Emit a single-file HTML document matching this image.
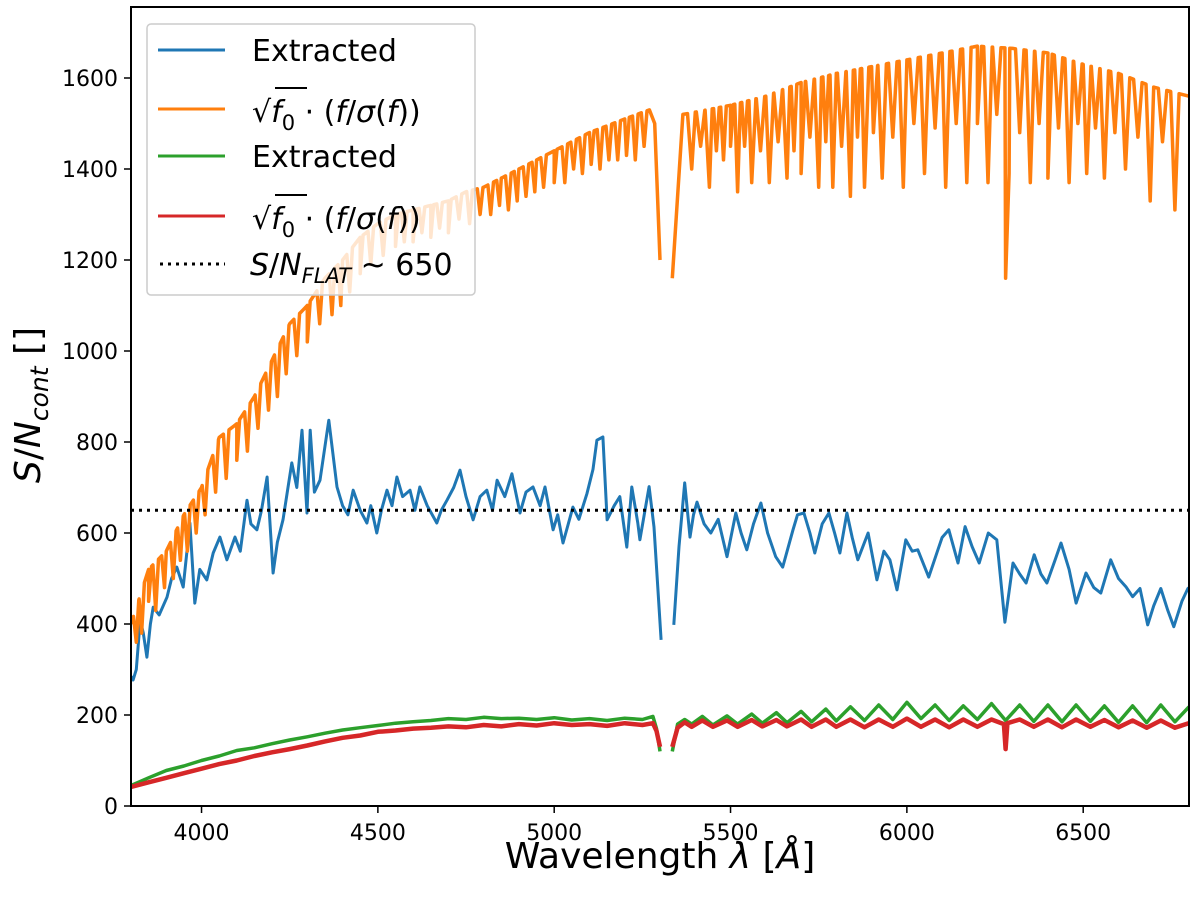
<!DOCTYPE html>
<html><head><meta charset="utf-8"><style>
html,body{margin:0;padding:0;background:#fff;}
svg{display:block;font-family:"DejaVu Sans","Liberation Sans",sans-serif;}
</style></head><body>
<svg id="chart" width="1200" height="907" viewBox="0 0 1200 907">
<g id="plot"></g>
</svg>
<script>
const blueW=[3800,3806,3815,3826,3835,3845,3855,3863,3880,3902,3915,3930,3948,3967,3981,3995,4015,4033,4052,4072,4095,4110,4129,4140,4157,4170,4186,4203,4215,4231,4256,4270,4285,4299,4308,4320,4336,4361,4384,4400,4415,4430,4450,4469,4480,4497,4510,4526,4540,4554,4570,4591,4605,4619,4640,4667,4680,4696,4715,4733,4750,4770,4790,4809,4825,4838,4860,4880,4903,4920,4940,4960,4974,4997,5010,5025,5040,5053,5070,5093,5110,5121,5138,5150,5170,5186,5206,5220,5237,5243,5269,5283,5303,null,5339,5354,5370,5385,5395,5405,5425,5444,5465,5490,5515,5530,5546,5565,5586,5605,5628,5648,5677,5690,5708,5725,5739,5760,5779,5795,5810,5830,5845,5861,5890,5915,5935,5952,5972,5997,6015,6031,6062,6088,6100,6119,6145,6165,6185,6205,6231,6255,6278,6301,6320,6338,6361,6380,6397,6420,6437,6460,6480,6508,6530,6550,6578,6600,6621,6640,6661,6683,6700,6720,6740,6757,6780,6797,6800];
const blueV=[285,277,300,409,380,327,400,437,420,459,500,525,481,622,446,520,497,556,591,541,591,560,672,620,607,650,723,512,580,629,754,700,826,644,826,690,716,848,701,660,640,694,650,622,660,600,650,694,660,723,680,694,650,701,660,622,650,672,700,738,680,629,680,694,650,716,680,730,644,690,701,660,701,607,640,578,620,657,630,687,740,804,811,629,660,680,569,701,622,585,702,613,365,null,398,570,710,591,640,668,620,600,630,548,644,600,563,620,666,600,548,525,607,640,644,600,556,620,644,600,556,644,590,541,600,497,560,541,475,585,560,563,503,563,590,607,534,614,570,534,600,585,404,534,510,490,552,510,490,540,578,520,446,512,480,468,541,500,482,460,478,398,440,478,430,394,450,478,480];
const orangeEnvW=[3800,3850,3900,3950,4000,4050,4100,4150,4200,4250,4300,4350,4400,4450,4500,4550,4600,4650,4700,4750,4800,4850,4900,4950,5000,5100,5200,5270,5285,5300,null,5335,5365,5400,5500,5600,5700,5800,5900,6000,6100,6200,6300,6400,6500,6600,6700,6800];
const orangeEnvV=[400,520,560,640,700,810,840,900,980,1060,1100,1160,1200,1250,1280,1300,1310,1320,1330,1350,1360,1380,1400,1420,1440,1480,1510,1530,1500,1200,null,1160,1520,1525,1540,1560,1590,1610,1625,1640,1655,1670,1665,1655,1630,1610,1580,1560];
const orangeDipW=[3815,3830,3850,3870,3895,3920,3940,3960,3985,4010,4040,4070,4100,4130,4160,4190,4215,4240,4270,4300,4335,4370,4395,4420,4450,4480,4515,4550,4575,4600,4625,4650,4675,4700,4730,4760,4790,4820,4845,4870,4895,4920,4945,4970,5000,5030,5055,5080,5105,5130,5155,5180,5205,5230,5255,5390,5415,5440,5460,5480,5500,5520,5540,5560,5585,5610,5635,5660,5680,5700,5725,5750,5770,5790,5815,5840,5860,5880,5905,5930,5960,5990,6020,6050,6080,6110,6140,6170,6200,6230,6255,6280,6290,6320,6350,6375,6400,6430,6460,6485,6510,6535,6560,6590,6620,6655,6690,6725,6760];
const orangeDipV=[360,380,450,430,480,500,540,560,600,640,690,720,760,780,830,870,900,950,990,1020,1060,1080,1100,1130,1170,1190,1210,1230,1240,1240,1260,1250,1270,1260,1290,1280,1300,1300,1320,1310,1330,1340,1350,1360,1370,1370,1400,1390,1410,1400,1420,1420,1430,1420,1450,1400,1450,1360,1440,1420,1450,1350,1450,1370,1440,1370,1460,1380,1440,1390,1470,1360,1460,1360,1450,1340,1470,1360,1480,1380,1470,1360,1500,1390,1490,1360,1500,1370,1500,1370,1520,1160,1390,1480,1370,1500,1380,1490,1370,1500,1390,1490,1380,1480,1400,1470,1330,1460,1310];
const greenW=[3800,3850,3900,3950,4000,4050,4100,4150,4200,4250,4300,4350,4400,4450,4500,4550,4600,4650,4700,4750,4800,4850,4900,4950,5000,5050,5100,5150,5200,5250,5280,5290,5300,null,5335,5350,5370,5390,5420,5450,5490,5520,5560,5590,5630,5660,5700,5730,5770,5800,5840,5880,5920,5960,6000,6040,6080,6120,6160,6200,6240,6280,6320,6360,6400,6440,6480,6520,6560,6600,6640,6680,6720,6760,6800];
const greenV=[45,62,78,88,100,110,122,128,137,145,152,160,167,172,177,182,185,188,192,190,195,192,193,190,194,189,192,188,193,190,197,170,120,null,120,180,190,180,197,178,198,180,202,182,205,183,208,185,213,187,218,188,222,190,228,192,222,188,220,190,225,188,222,186,222,185,222,186,220,184,220,183,222,185,218];
const redW=[3800,3850,3900,3950,4000,4050,4100,4150,4200,4250,4300,4350,4400,4450,4500,4550,4600,4650,4700,4750,4800,4850,4900,4950,5000,5050,5100,5150,5200,5250,5280,5290,5300,null,5335,5350,5370,5390,5420,5450,5490,5520,5560,5590,5630,5660,5700,5730,5770,5800,5840,5880,5920,5960,6000,6040,6080,6120,6160,6200,6240,6275,6280,6285,6320,6360,6400,6440,6480,6520,6560,6600,6640,6680,6720,6760,6800];
const redV=[42,52,62,72,82,92,100,110,118,125,133,142,150,155,163,166,170,172,175,173,178,175,180,177,182,178,180,176,182,178,182,165,130,null,130,172,184,174,188,174,188,174,189,175,189,175,190,174,190,174,190,173,190,174,192,174,190,173,190,174,190,180,125,182,190,174,190,173,190,174,189,173,188,172,188,172,182];
const xTicks=[4000,4500,5000,5500,6000,6500];
const yTicks=[0,200,400,600,800,1000,1200,1400,1600];
const flatLevel=650;

const L=131,R=1189,T=7,B=806;
const X=w=>L+(w-3800)*(R-L)/3000;
const Y=v=>B-v*0.455;
const NS='http://www.w3.org/2000/svg';
const svg=document.getElementById('chart');
function mk(tag,attrs,parent){const e=document.createElementNS(NS,tag);for(const k in attrs)e.setAttribute(k,attrs[k]);(parent||svg).appendChild(e);return e;}
const clip=mk('clipPath',{id:'cp'});mk('rect',{x:L,y:T,width:R-L,height:B-T},clip);
function pathFrom(ws,vs){let d='',pen=false;for(let i=0;i<ws.length;i++){if(ws[i]===null||vs[i]===null){pen=false;continue;}d+=(pen?'L':'M')+X(ws[i]).toFixed(1)+','+Y(vs[i]).toFixed(1);pen=true;}return d;}
function envAt(w){for(let i=0;i<orangeEnvW.length-1;i++){const a=orangeEnvW[i],b=orangeEnvW[i+1];if(a!==null&&b!==null&&w>=a&&w<=b){return orangeEnvV[i]+(orangeEnvV[i+1]-orangeEnvV[i])*(w-a)/(b-a);}}return null;}
let pts=[];
for(let i=0;i<orangeEnvW.length;i++){if(orangeEnvW[i]!==null)pts.push([orangeEnvW[i],orangeEnvV[i]]);else pts.push([orangeEnvW[i-1]+1,null]);}
for(let i=0;i<orangeDipW.length;i++){const w=orangeDipW[i];const h=w<5300?8:12;const a=envAt(w-h),b=envAt(w+h);if(a!==null)pts.push([w-h,a]);pts.push([w,orangeDipV[i]]);if(b!==null)pts.push([w+h,b]);}
pts.sort((p,q)=>p[0]-q[0]);
const g=mk('g',{'clip-path':'url(#cp)'});


function series(d,color,name,w){const p=mk('path',{d:d,fill:'none',stroke:color,'stroke-width':w,'stroke-linejoin':'round'},g);}
series(pathFrom(blueW,blueV),'#1f77b4','extracted-blue-line',3);
series(pathFrom(pts.map(p=>p[0]),pts.map(p=>p[1])),'#ff7f0e','sqrt-f0-orange-line',3.5);
series(pathFrom(greenW,greenV),'#2ca02c','extracted-green-line',3.5);
series(pathFrom(redW,redV),'#d62728','sqrt-f0-red-line',4.5);
const fl=mk('line',{x1:L,x2:R,y1:Y(flatLevel),y2:Y(flatLevel),stroke:'#000','stroke-width':3,'stroke-dasharray':'3,5'},g);


const fr=mk('rect',{x:L,y:T,width:R-L,height:B-T,fill:'none',stroke:'#000','stroke-width':2});


for(const t of xTicks){mk('line',{x1:X(t),x2:X(t),y1:B,y2:B+7,stroke:'#000','stroke-width':1.5});const tx=mk('text',{x:X(t),y:B+34,'font-size':22,'text-anchor':'middle'});tx.textContent=t;

}
for(const t of yTicks){mk('line',{x1:L-7,x2:L,y1:Y(t),y2:Y(t),stroke:'#000','stroke-width':1.5});const tx=mk('text',{x:L-13,y:Y(t)+8,'font-size':22,'text-anchor':'end'});tx.textContent=t;

}
</script>
<svg width="1200" height="907" style="position:absolute;left:0;top:0">
<text x="660" y="868" font-size="36" text-anchor="middle">Wavelength <tspan font-style="italic">λ</tspan> [<tspan font-style="italic">Å</tspan>]</text>
<text transform="translate(40,405) rotate(-90)" font-size="36" text-anchor="middle"><tspan font-style="italic">S</tspan>/<tspan font-style="italic">N</tspan><tspan font-style="italic" font-size="25" dy="8">cont</tspan><tspan dy="-8"> []</tspan></text>
<g>
<rect x="147" y="24" width="328" height="271" rx="4" fill="#fff" fill-opacity="0.8" stroke="#ccc" stroke-width="1.5"/>
<g><line x1="158" x2="225" y1="50" y2="50" stroke="#1f77b4" stroke-width="3"/><text x="252" y="61" font-size="30">Extracted</text></g>
<g><line x1="158" x2="225" y1="109" y2="109" stroke="#ff7f0e" stroke-width="3"/><text x="252" y="122" font-size="30">√<tspan font-style="italic">f</tspan><tspan font-size="21" dy="8">0</tspan><tspan dy="-8"> · (</tspan><tspan font-style="italic">f</tspan>/<tspan font-style="italic">σ</tspan>(<tspan font-style="italic">f</tspan>))</text><line x1="275" x2="307" y1="88" y2="88" stroke="#000" stroke-width="2"/></g>
<g><line x1="158" x2="225" y1="156" y2="156" stroke="#2ca02c" stroke-width="3"/><text x="252" y="167" font-size="30">Extracted</text></g>
<g><line x1="158" x2="225" y1="216" y2="216" stroke="#d62728" stroke-width="3"/><text x="252" y="229" font-size="30">√<tspan font-style="italic">f</tspan><tspan font-size="21" dy="8">0</tspan><tspan dy="-8"> · (</tspan><tspan font-style="italic">f</tspan>/<tspan font-style="italic">σ</tspan>(<tspan font-style="italic">f</tspan>))</text><line x1="275" x2="307" y1="195" y2="195" stroke="#000" stroke-width="2"/></g>
<g><line x1="160" x2="225" y1="264" y2="264" stroke="#000" stroke-width="3" stroke-dasharray="3,5"/><text x="250" y="275" font-size="30"><tspan font-style="italic">S</tspan>/<tspan font-style="italic">N</tspan><tspan font-style="italic" font-size="21" dy="8">FLAT</tspan><tspan dy="-8"> ~ 650</tspan></text></g>
</g>
</svg>
</body></html>
